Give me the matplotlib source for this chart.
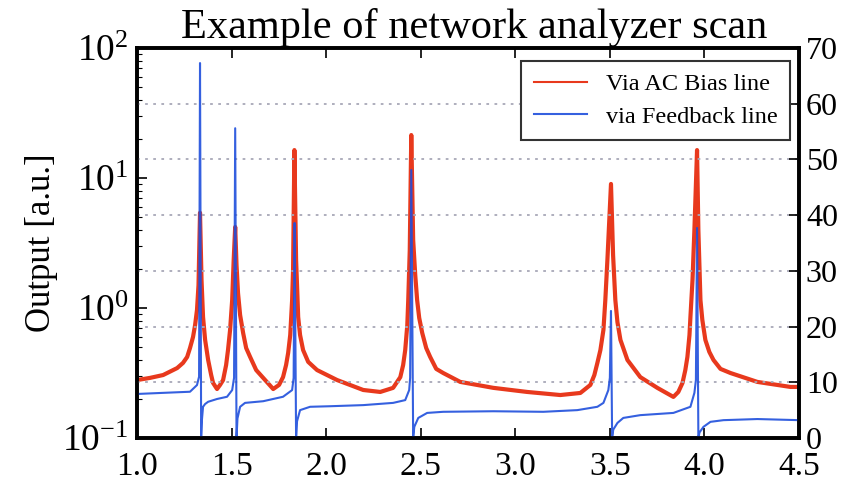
import matplotlib
matplotlib.use("Agg")
import matplotlib.pyplot as plt
from matplotlib.ticker import MultipleLocator, LogLocator, NullFormatter

plt.rcParams['font.family'] = ['Liberation Serif', 'DejaVu Serif']
plt.rcParams['mathtext.fontset'] = 'custom'
plt.rcParams['mathtext.rm'] = 'Liberation Serif'
plt.rcParams['mathtext.it'] = 'Liberation Serif:italic'
plt.rcParams['mathtext.bf'] = 'Liberation Serif:bold'
plt.rcParams['axes.unicode_minus'] = False

# Transmission measured through the AC bias line (log scale, left axis)
bias_freq = [1.000, 1.069, 1.138, 1.212, 1.243, 1.265, 1.280, 1.296, 1.307, 1.317,
             1.325, 1.333, 1.341, 1.349, 1.360, 1.376, 1.392, 1.402, 1.423, 1.439,
             1.455, 1.471, 1.481, 1.492, 1.503, 1.511, 1.519, 1.526, 1.534, 1.545,
             1.561, 1.577, 1.598, 1.630, 1.667, 1.720, 1.751, 1.772, 1.788, 1.799,
             1.810, 1.820, 1.825, 1.832, 1.841, 1.847, 1.852, 1.862, 1.878, 1.905,
             1.952, 2.058, 2.196, 2.286, 2.354, 2.392, 2.407, 2.418, 2.429, 2.434,
             2.442, 2.450, 2.460, 2.471, 2.481, 2.492, 2.508, 2.529, 2.550, 2.582,
             2.619, 2.709, 2.884, 3.063, 3.238, 3.344, 3.397, 3.418, 3.434, 3.450,
             3.466, 3.476, 3.487, 3.506, 3.517, 3.529, 3.540, 3.556, 3.593, 3.661,
             3.751, 3.836, 3.862, 3.884, 3.899, 3.910, 3.921, 3.926, 3.937, 3.947,
             3.961, 3.968, 3.979, 3.989, 4.005, 4.026, 4.048, 4.085, 4.138, 4.280,
             4.455, 4.500]
bias_out = [0.279, 0.290, 0.305, 0.345, 0.378, 0.420, 0.492, 0.598, 0.740, 0.966,
            1.50, 5.4, 1.64, 0.853, 0.568, 0.398, 0.305, 0.265, 0.238, 0.256,
            0.279, 0.364, 0.475, 0.678, 1.15, 2.34, 4.2, 2.14, 1.30, 0.883,
            0.642, 0.492, 0.420, 0.333, 0.290, 0.238, 0.256, 0.294, 0.364, 0.451,
            0.620, 1.15, 1.96, 16.4, 2.34, 1.37, 0.853, 0.620, 0.475, 0.385,
            0.333, 0.279, 0.234, 0.226, 0.243, 0.294, 0.364, 0.475, 0.740, 1.15,
            2.79, 21.4, 3.34, 1.79, 1.15, 0.838, 0.642, 0.492, 0.420, 0.340,
            0.316, 0.270, 0.243, 0.226, 0.214, 0.222, 0.256, 0.305, 0.378, 0.475,
            0.678, 1.15, 2.34, 9.0, 2.56, 1.15, 0.780, 0.568, 0.398, 0.294,
            0.243, 0.207, 0.226, 0.265, 0.333, 0.420, 0.620, 0.853, 1.64, 3.98,
            16.4, 3.98, 1.15, 0.809, 0.568, 0.459, 0.398, 0.340, 0.316, 0.270,
            0.247, 0.247]

# Transmission measured through the feedback line (linear scale, right axis)
feedback_freq = [1.000, 1.138, 1.280, 1.317, 1.328, 1.333, 1.339, 1.343, 1.349, 1.360,
                 1.376, 1.423, 1.476, 1.503, 1.513, 1.519, 1.526, 1.531, 1.545, 1.571,
                 1.667, 1.772, 1.820, 1.828, 1.833, 1.841, 1.846, 1.862, 1.915, 2.021,
                 2.196, 2.354, 2.418, 2.439, 2.444, 2.450, 2.460, 2.466, 2.487, 2.534,
                 2.619, 2.884, 3.148, 3.328, 3.434, 3.466, 3.492, 3.500, 3.506, 3.512,
                 3.518, 3.540, 3.571, 3.661, 3.836, 3.926, 3.947, 3.955, 3.961, 3.968,
                 3.974, 3.995, 4.032, 4.101, 4.280, 4.500]
feedback_out = [7.9, 8.1, 8.3, 9.5, 11.0, 67.3, 0.0, 3.2, 5.6, 6.1,
                6.5, 7.0, 7.4, 8.6, 10.8, 55.6, 0.0, 3.5, 5.6, 6.3,
                6.6, 7.4, 8.6, 10.8, 38.6, 0.0, 3.0, 5.0, 5.6, 5.7,
                5.9, 6.3, 6.8, 8.6, 10.8, 48.1, 0.0, 2.0, 3.6, 4.5,
                4.7, 4.8, 4.7, 5.0, 5.6, 6.3, 8.6, 10.8, 22.8, 0.0,
                1.5, 2.7, 3.6, 4.1, 4.5, 5.6, 8.1, 10.4, 37.7, 0.0,
                1.0, 2.0, 2.9, 3.2, 3.4, 3.2]

red = '#e8391d'
blue = '#1f4fdc'

fig = plt.figure(figsize=(8.48, 4.83), dpi=100)
ax = fig.add_axes([0.1616, 0.0932, 0.7806, 0.8074])
ax2 = ax.twinx()

l1, = ax.plot(bias_freq, bias_out, color=red, lw=3.0, label='Via AC Bias line')
l2, = ax2.plot(feedback_freq, feedback_out, color=blue, lw=1.5, alpha=0.9,
               label='via Feedback line')

ax.set_yscale('log')
ax.set_ylim(0.1, 100)
ax.set_xlim(1.0, 4.5)
ax2.set_ylim(0, 70)

ax.xaxis.set_major_locator(MultipleLocator(0.5))
ax.xaxis.set_major_formatter(plt.FormatStrFormatter('%.1f'))
ax.yaxis.set_major_locator(LogLocator(base=10, numticks=10))
ax.yaxis.set_minor_locator(LogLocator(base=10, subs=range(2, 10), numticks=20))
ax.yaxis.set_minor_formatter(NullFormatter())
ax2.yaxis.set_major_locator(MultipleLocator(10))

ax2.grid(axis='y', color='#a8a8b8', linestyle=(0, (1.5, 3)), linewidth=1.3)
ax2.set_axisbelow(True)

ax.tick_params(axis='x', which='major', direction='in', length=7, width=1.2,
               top=True, labelsize=24, pad=10)
ax.tick_params(axis='y', which='major', direction='in', length=7, width=1.2,
               labelsize=27, pad=6)
ax.tick_params(axis='y', which='minor', direction='in', length=3.5, width=0.8)
ax2.tick_params(axis='y', direction='in', length=7, width=1.2, labelsize=23, pad=5)

for a in (ax, ax2):
    for s in a.spines.values():
        s.set_linewidth(2.6)

ax.set_title('Example of network analyzer scan', fontsize=30.5, pad=7, x=0.51)
ax.set_ylabel('Output [a.u.]', fontsize=25)
ax.yaxis.set_label_coords(-0.119, 0.5)

leg = ax2.legend(handles=[l1, l2], loc='upper right', fontsize=17.5,
                 bbox_to_anchor=(0.987, 0.967), fancybox=False, framealpha=1,
                 edgecolor='#333333', handlelength=2.2, borderpad=0.5,
                 labelspacing=0.45, handletextpad=0.8, borderaxespad=0)
leg.get_frame().set_linewidth(1.5)
for h in leg.get_lines():
    h.set_linewidth(1.5)

fig.savefig('out.png', dpi=100)
